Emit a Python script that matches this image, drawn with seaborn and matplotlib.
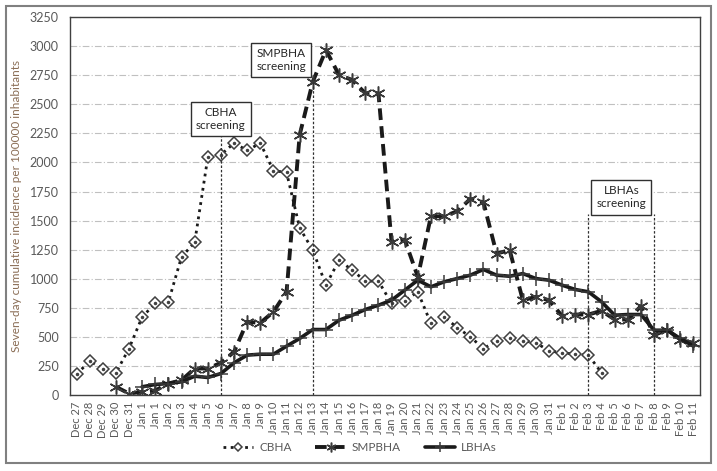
import numpy as np
import pandas as pd
import matplotlib
matplotlib.use("Agg")
import matplotlib.pyplot as plt
import seaborn as sns

# x categories (note: "Jan 1" appears twice in the source chart)
dates = ["Dec 27", "Dec 28", "Dec 29", "Dec 30", "Dec 31", "Jan 1", "Jan 1"] + \
        [f"Jan {d}" for d in range(2, 32)] + [f"Feb {d}" for d in range(1, 12)]

nan = np.nan
cbha = [180, 292, 229, 192, 401, 673, 788, 802, 1189, 1312,
        2043, 2066, 2166, 2103, 2166, 1929, 1914, 1437, 1246, 945,
        1160, 1074, 980, 980, 788, 810, 888, 616, 673, 581,
        501, 401, 467, 487, 467, 450, 381, 364, 352, 344,
        192, nan, nan, nan, nan, nan, nan, nan]
smpbha = [nan, nan, nan, 72, 14, 29, 40, 100, 129, 229,
          229, 278, 372, 630, 621, 716, 888, 2237, 2694, 2966,
          2751, 2709, 2594, 2594, 1317, 1337, 1017, 1537, 1537, 1580,
          1686, 1657, 1217, 1246, 816, 845, 816, 679, 693, 693,
          725, 650, 650, 765, 515, 564, 473, 450]
lbhas = [nan, nan, nan, nan, nan, 72, 92, 100, 115, 163,
         152, 186, 278, 344, 352, 352, 421, 487, 564, 564,
         644, 687, 736, 773, 816, 902, 988, 931, 974, 1002,
         1031, 1080, 1031, 1022, 1045, 1002, 988, 945, 908, 888,
         802, 687, 693, 693, 558, 558, 487, 421]

screen_labels = ["CBHA\nscreening", "SMPBHA\nscreening", "LBHAs\nscreening"]

df = pd.DataFrame({"pos": np.arange(len(dates)), "CBHA": cbha,
                   "SMPBHA": smpbha, "LBHAs": lbhas})

sns.set_style("white")
plt.rcParams["font.family"] = ["Lato", "DejaVu Sans"]

fig = plt.figure(figsize=(7.17, 4.71), dpi=100)
ax = fig.add_axes([0.0976, 0.161, 0.8787, 0.803])

tick_col = "#595959"
line_col = "#1a1a1a"

sns.lineplot(data=df, x="pos", y="CBHA", ax=ax, color=line_col, linestyle=(0, (1, 1.6)),
             linewidth=2, marker="D", markersize=6, markerfacecolor="white",
             markeredgecolor="#404040", markeredgewidth=1.1, label="CBHA")
ax.plot(df["pos"], df["CBHA"], linestyle="none", marker=".", markersize=3, color="#404040")
sns.lineplot(data=df, x="pos", y="SMPBHA", ax=ax, color=line_col, linestyle=(0, (3, 1.6)),
             linewidth=2.8, marker=(6, 2, 0), markersize=10, markeredgecolor="#3a3a3a",
             markeredgewidth=1.1, label="SMPBHA")
sns.lineplot(data=df, x="pos", y="LBHAs", ax=ax, color=line_col, linestyle="-",
             linewidth=2.6, marker="+", markersize=10, markeredgecolor="#3a3a3a",
             markeredgewidth=1.1, label="LBHAs")

ax.set_xlim(-0.5, len(dates) - 0.5)
ax.set_ylim(0, 3250)
ax.set_yticks(np.arange(0, 3251, 250))
ax.set_xticks(df["pos"])
ax.set_xticklabels(dates, rotation=90, fontsize=8, color=tick_col)
ax.tick_params(axis="y", labelsize=9, labelcolor=tick_col, length=0, pad=8)
ax.tick_params(axis="x", length=3, color="#808080", pad=2)
ax.yaxis.grid(True, color="#c0c0c0", linestyle=(0, (6, 2, 1, 2)), linewidth=0.8)
ax.set_axisbelow(True)
for s in ax.spines.values():
    s.set_color("#404040")
    s.set_linewidth(1)
ax.set_xlabel("")
ax.set_ylabel("Seven-day cumulative incidence per 100000 inhabitants",
              fontsize=8.5, color="#8a6d55", labelpad=6)

# screening markers
box = dict(boxstyle="square,pad=0.45", facecolor="white", edgecolor="#303030", linewidth=1)
vl = dict(color="#303030", linestyle=(0, (2, 1.5)), linewidth=0.9)
ax.plot([11, 11], [0, 2240], **vl)
ax.text(11, 2375, screen_labels[0], ha="center", va="center", fontsize=8.5, bbox=box, zorder=5)
ax.plot([18, 18], [0, 2740], **vl)
ax.text(15.6, 2880, screen_labels[1], ha="center", va="center", fontsize=8.5, bbox=box, zorder=5)
ax.plot([39, 39], [0, 1560], **vl)
ax.plot([44, 44], [0, 1560], **vl)
ax.text(41.5, 1700, screen_labels[2], ha="center", va="center", fontsize=8.5, bbox=box, zorder=5)

leg = ax.legend(loc="center", bbox_to_anchor=(0.46, -0.1376), ncol=3, frameon=False,
                fontsize=8.5, handlelength=2.6, columnspacing=2.0, handletextpad=0.5,
                borderpad=0, borderaxespad=0, markerscale=0.7)
for t in leg.get_texts():
    t.set_color(tick_col)

# outer frame around the whole figure
fig.patches.append(plt.Rectangle((0.009, 0.017), 0.983, 0.97, transform=fig.transFigure,
                                 fill=False, edgecolor="#808080", linewidth=1.5))

fig.savefig("out.png", dpi=100)
